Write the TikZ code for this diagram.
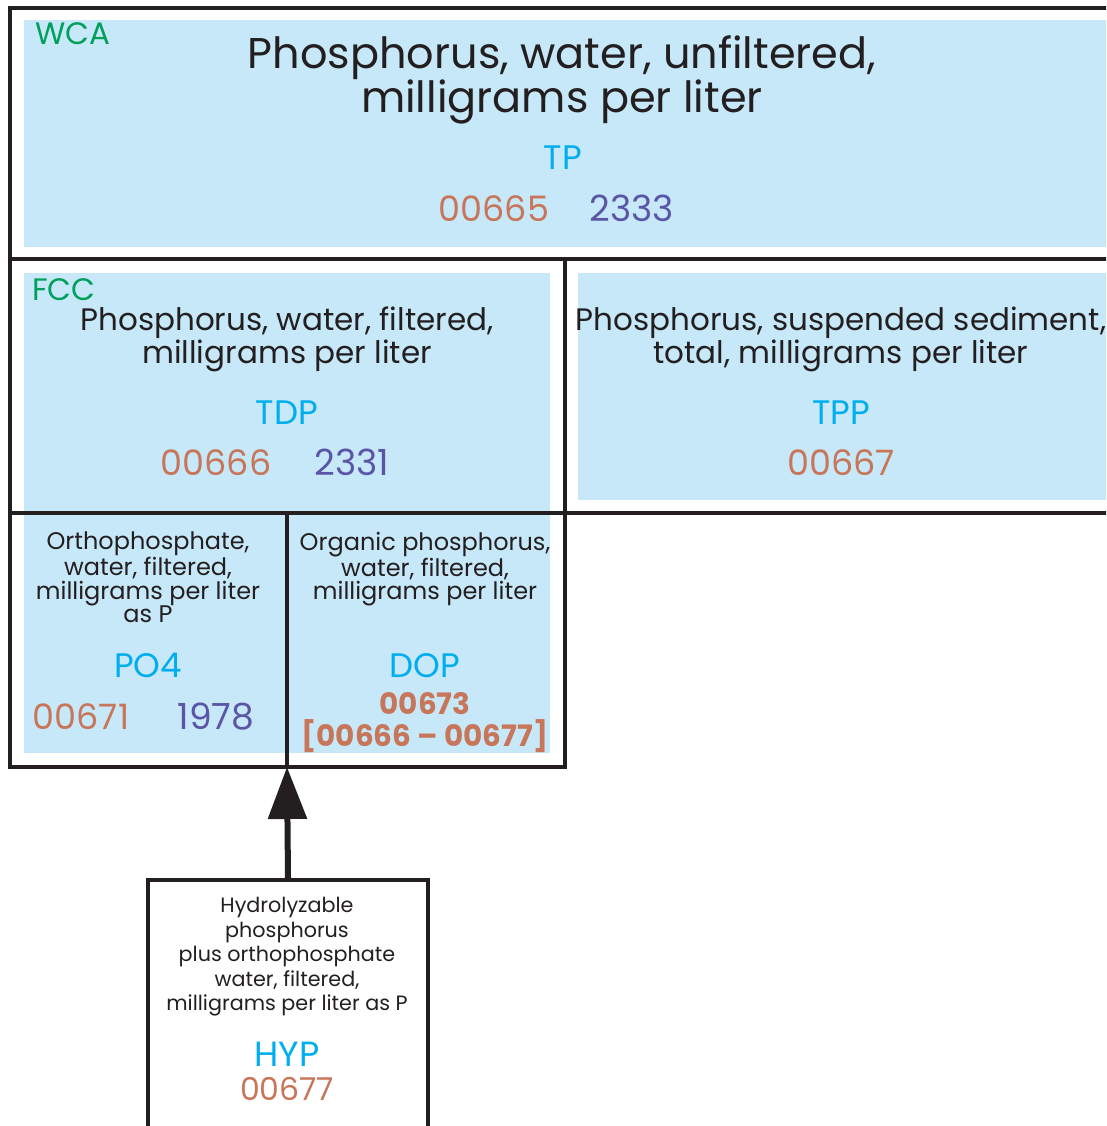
\documentclass[tikz,border=0pt]{standalone}
\usepackage{fontspec}
\setmainfont{Poppins}
\usepackage{tikz}
\usetikzlibrary{arrows.meta, positioning}
\definecolor{frame}{HTML}{231F20}
\definecolor{paleblue}{HTML}{C7E8F8}
\definecolor{groupgreen}{HTML}{00A05A}
\definecolor{abbrev}{HTML}{00AEEF}
\definecolor{pcode}{HTML}{C8765A}
\definecolor{srscode}{HTML}{5B55A8}

\tikzset{
  frameline/.style={frame, line width=3.5pt},
  group/.style={groupgreen, inner sep=0, anchor=north west, font=\fontsize{31}{31}\selectfont},
  bigtitle/.style={frame, inner sep=0, anchor=north, align=center, font=\fontsize{43}{42}\selectfont},
  midtitle/.style={frame, inner sep=0, anchor=north, align=center, font=\fontsize{31}{29.5}\selectfont},
  smalltitle/.style={frame, inner sep=0, anchor=north, align=center, font=\fontsize{24}{23.5}\selectfont},
  hyptitle/.style={frame, inner sep=0, anchor=north, align=center, font=\fontsize{20.7}{24.5}\selectfont},
  abbr/.style={abbrev, inner sep=0, anchor=base, font=\fontsize{34}{34}\selectfont},
  code/.style={pcode, inner sep=0, anchor=base, font=\fontsize{35}{35}\selectfont},
  srs/.style={srscode, inner sep=0, anchor=base, font=\fontsize{36}{36}\selectfont},
  boldcode/.style={pcode, inner sep=0, anchor=base, font=\bfseries\fontsize{29.5}{29.5}\selectfont}
}

\begin{document}
\begin{tikzpicture}[x=1pt, y=-1pt]
  \useasboundingbox (0,0) rectangle (1106,1126);
  \clip (0,0) rectangle (1106,1126);
  % Blue panels
  \fill[paleblue] (24,20) rectangle (1110,247);
  \fill[paleblue] (24,273) rectangle (550,753);
  \fill[paleblue] (578,273) rectangle (1110,500);
  % Frames
  \draw[frameline] (1120,8) -- (10,8) -- (10,767) -- (565,767) -- (565,259);
  \draw[frameline] (10,259) -- (1120,259);
  \draw[frameline] (10,513) -- (1120,513);
  \draw[frameline] (287,513) -- (287,767);
  \coordinate (split) at (287,767);
  % Unfiltered
  \node[group] (wca) at (35,22) {WCA};
  \node[bigtitle] (tptext) at (562,35) {Phosphorus, water, unfiltered,\\milligrams per liter};
  \node[abbr] (tp) at (563,170) {TP};
  \node[code] (tpcode) at (494,221) {00665};
  \node[srs] (tpsrs) at (632,221) {2333};
  % Filtered
  \node[group] (fcc) at (32,278) {FCC};
  \node[midtitle] (tdptext) at (287,307) {Phosphorus, water, filtered,\\milligrams per liter};
  \node[abbr] (tdp) at (287,424) {TDP};
  \node[code] (tdpcode) at (216,475) {00666};
  \node[srs] (tdpsrs) at (352,475) {2331};
  % Suspended
  \node[midtitle] (tpptext) at (841,307) {Phosphorus, suspended sediment,\\total, milligrams per liter};
  \node[abbr] (tpp) at (841,424) {TPP};
  \node[code] (tppcode) at (841,475) {00667};
  % Orthophosphate
  \node[smalltitle] (po4text) at (148,532) {Orthophosphate,\\water, filtered,\\milligrams per liter\\as P};
  \node[abbr] (po4) at (148,677) {PO4};
  \node[code] (po4code) at (81,729) {00671};
  \node[srs] (po4srs) at (216,729) {1978};
  % Organic
  \node[smalltitle] (doptext) at (425,532) {Organic phosphorus,\\water, filtered,\\milligrams per liter};
  \node[abbr] (dop) at (425,677) {DOP};
  \node[boldcode] (dopcode) at (425,714) {00673};
  \node[boldcode] (dopcalc) at (425,746) {[00666 -- 00677]};
  % Hydrolyzable
  \node[draw=frame, line width=3.5pt, minimum width=280pt, minimum height=280pt, anchor=north] (hyp) at (288,878) {};
  \node[hyptitle] (hyptext) at (287,897) {Hydrolyzable\\phosphorus\\plus orthophosphate\\water, filtered,\\milligrams per liter as P};
  \node[abbr, font=\fontsize{35}{35}\selectfont] (hypabbr) at (287,1066) {HYP};
  \node[code, font=\fontsize{31.5}{31.5}\selectfont] (hypcode) at (287,1100) {00677};
  % Arrow
  \draw[frame, line width=6pt, -{Triangle[width=38pt, length=52pt]}] (hyp.north) -- (split);
\end{tikzpicture}
\end{document}
